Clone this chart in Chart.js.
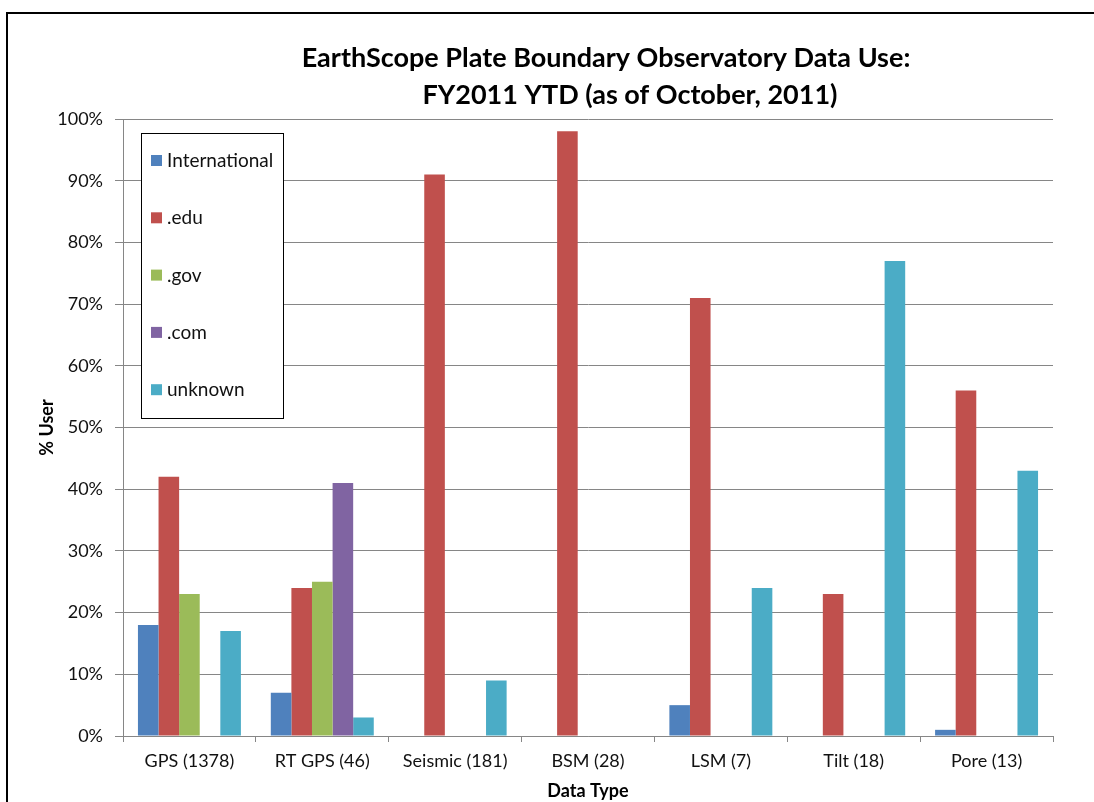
<!DOCTYPE html>
<html>
<head>
<meta charset="utf-8">
<script src="https://cdn.jsdelivr.net/npm/chart.js@4.4.0/dist/chart.umd.min.js"></script>
<style>
  body { margin: 0; background: #fff; overflow: hidden; }
  #frame { position: absolute; left: 6px; top: 12px; width: 1200px; height: 900px; border: 2px solid #000; }
  #wrap { position: absolute; left: 0; top: 0; width: 1094px; height: 802px; }
</style>
</head>
<body>
<div id="frame"></div>
<div id="wrap"><canvas id="chart" width="1094" height="802"></canvas></div>
<script>
// kategori dan nilai (persen) per domain
const categories = ['GPS (1378)', 'RT GPS (46)', 'Seismic (181)', 'BSM (28)', 'LSM (7)', 'Tilt (18)', 'Pore (13)'];
const international = [18, 7, 0, 0, 5, 0, 1];
const edu = [42, 24, 91, 98, 71, 23, 56];
const gov = [23, 25, 0, 0, 0, 0, 0];
const com = [0, 41, 0, 0, 0, 0, 0];
const unknown = [17, 3, 9, 0, 24, 77, 43];
const yTicks = [0, 10, 20, 30, 40, 50, 60, 70, 80, 90, 100];

const titleLines = ['EarthScope Plate Boundary Observatory Data Use:', 'FY2011 YTD (as of October, 2011)'];
const FONT = 'Lato, "Open Sans", sans-serif';

// judul dua baris digambar manual
const titlePlugin = {
    id: 'manualTitle',
    afterDraw(chart) {
        const ctx = chart.ctx;
        ctx.save();
        ctx.fillStyle = '#000';
        ctx.font = 'bold 27px ' + FONT;
        ctx.textAlign = 'center';
        ctx.textBaseline = 'middle';
        ctx.fillText(titleLines[0], 606, 58);
        ctx.fillText(titleLines[1], 630, 95);
        ctx.restore();
    }
};

// legenda di dalam area chart, dengan kotak
const boxLegend = {
    id: 'boxLegend',
    afterDraw(chart) {
        const ctx = chart.ctx;
        const x = 141, y = 133, w = 142, h = 285;
        ctx.save();
        ctx.fillStyle = '#fff';
        ctx.fillRect(x, y, w, h);
        ctx.strokeStyle = '#000';
        ctx.lineWidth = 1;
        ctx.strokeRect(x + 0.5, y + 0.5, w, h);
        ctx.font = '19px ' + FONT;
        ctx.textBaseline = 'middle';
        chart.data.datasets.forEach((ds, i) => {
            const cy = 161 + i * 57.3;
            ctx.fillStyle = ds.backgroundColor;
            ctx.fillRect(151, cy - 6, 11, 11);
            ctx.fillStyle = '#111';
            ctx.fillText(ds.label, 167, cy);
        });
        ctx.restore();
    }
};

const ctx = document.getElementById('chart').getContext('2d');
new Chart(ctx, {
    type: 'bar',
    data: {
        labels: categories,
        datasets: [
            { label: 'International', data: international, backgroundColor: '#4F81BD' },
            { label: '.edu', data: edu, backgroundColor: '#C0504D' },
            { label: '.gov', data: gov, backgroundColor: '#9BBB59' },
            { label: '.com', data: com, backgroundColor: '#8064A2' },
            { label: 'unknown', data: unknown, backgroundColor: '#4BACC6' }
        ]
    },
    options: {
        responsive: false,
        animation: false,
        devicePixelRatio: 1,
        layout: { padding: { top: 119, right: 41, bottom: 0, left: 0 } },
        datasets: { bar: { categoryPercentage: 0.775, barPercentage: 1.0, borderWidth: 0 } },
        plugins: { legend: { display: false }, title: { display: false }, tooltip: { enabled: false } },
        scales: {
            x: {
                afterFit(scale) { scale.height = 66; },
                grid: { display: true, drawOnChartArea: false, drawTicks: true, tickLength: 6, color: '#868686', offset: true },
                border: { color: '#868686', width: 1 },
                ticks: { color: '#111', font: { family: FONT, size: 18 }, padding: 8, maxRotation: 0 },
                title: { display: true, text: 'Data Type', color: '#000', font: { family: FONT, size: 18, weight: 'bold' }, padding: { top: 0, bottom: 0 } }
            },
            y: {
                min: 0,
                max: 100,
                afterFit(scale) { scale.width = 123; },
                afterBuildTicks(scale) { scale.ticks = yTicks.map(v => ({ value: v })); },
                grid: { color: '#868686', tickLength: 8, drawTicks: true },
                border: { color: '#868686', width: 1 },
                ticks: { color: '#111', font: { family: FONT, size: 18 }, padding: 12, callback: v => v + '%' },
                title: { display: true, text: '% User', color: '#000', font: { family: FONT, size: 18, weight: 'bold' }, padding: { top: 36, bottom: 0 } }
            }
        }
    },
    plugins: [titlePlugin, boxLegend]
});
</script>
</body>
</html>
